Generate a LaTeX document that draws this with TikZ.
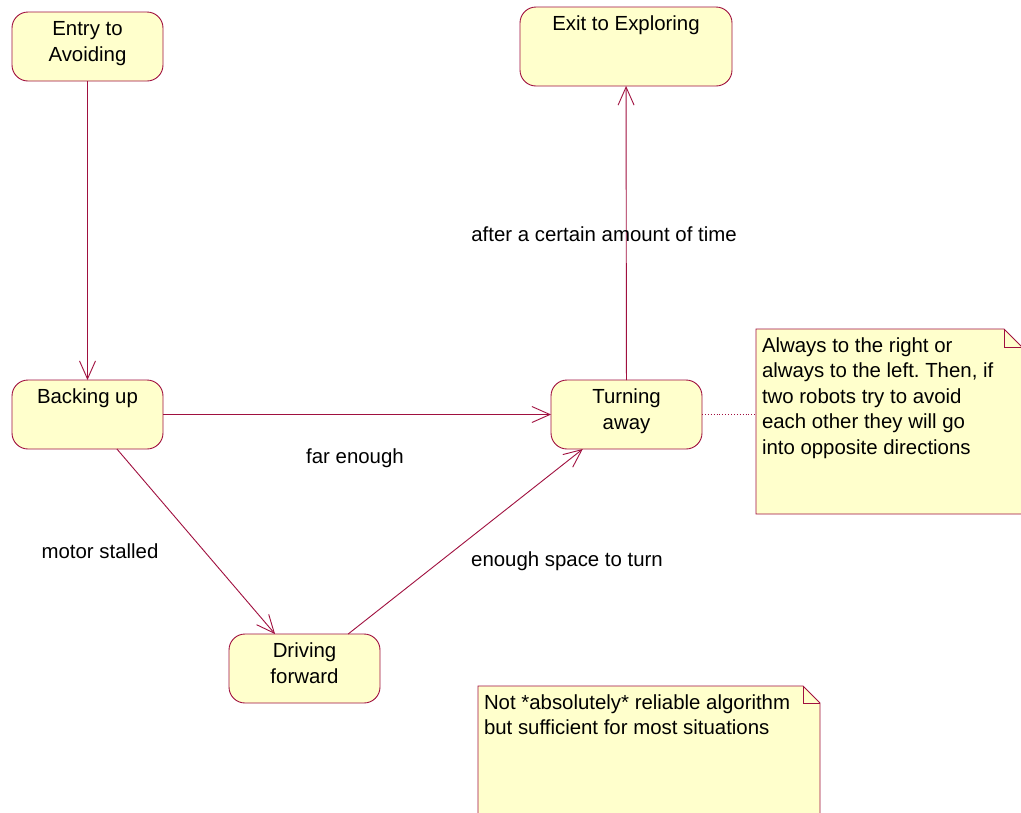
\documentclass[tikz,border=0pt]{standalone}
\usepackage{fontspec}
\setmainfont{Liberation Sans}
\usetikzlibrary{arrows.meta,calc}
\frenchspacing

\definecolor{umlline}{HTML}{A0103F}
\definecolor{umlfill}{HTML}{FFFFCC}

% state box contents: fixed-size box, text starting near the top
\newcommand\statebox[3]{\parbox[t][#2pt][t]{#1pt}{\centering\rule{0pt}{23.5pt}#3}}
% note contents: left-aligned text inset from the left edge
\newcommand\notebox[3]{\parbox[t][#2pt][t]{#1pt}{\raggedright\leftskip=6pt\rule{0pt}{23pt}#3}}

\tikzset{
  state/.style={draw=umlline, fill=umlfill, line width=0.9pt, rounded corners=16pt,
                inner sep=0pt, outer sep=0pt},
  notetext/.style={inner sep=0pt, outer sep=0pt, anchor=north west},
  noteshape/.style={draw=umlline, fill=umlfill, line width=0.9pt, line join=miter},
  trans/.style={draw=umlline, line width=0.9pt,
                -{Straight Barb[length=18pt,width=16pt,line width=0.9pt]}},
  anchorline/.style={draw=umlline, line width=0.9pt, dotted},
  lbl/.style={anchor=base, inner sep=0pt}
}

\begin{document}
\begin{tikzpicture}[x=1pt,y=-1pt,font=\fontsize{20.4}{25.5}\selectfont]
  \fill[white] (0,0) rectangle (1021,812);
  \useasboundingbox (0,0) rectangle (1021,812);

  % states
  \node[state] (entry) at (87.5,46.5) {\statebox{151}{69}{Entry to\\Avoiding}};
  \node[state] (exit) at (626,46.5) {\statebox{212}{79}{Exit to Exploring}};
  \node[state] (back) at (87.5,414.5) {\statebox{151}{69}{Backing up}};
  \node[state] (turn) at (626.5,414.5) {\statebox{151}{69}{Turning\\away}};
  \node[state] (drive) at (304.5,668.5) {\statebox{151}{69}{Driving\\forward}};

  % note beside the turning state
  \coordinate (n1a) at (756,329);
  \coordinate (n1b) at (1022,514);
  \draw[noteshape] (n1a) -- ($(n1a -| n1b)+(-18,0)$) -- ($(n1a -| n1b)+(0,18)$)
        -- (n1b) -- (n1a |- n1b) -- cycle;
  \draw[noteshape, fill=none] ($(n1a -| n1b)+(-18,0)$) |- ($(n1a -| n1b)+(0,18)$);
  \node[notetext] (n1) at (n1a) {\notebox{266}{185}{Always to the right or\\
    always to the left. Then, if\\two robots try to avoid\\each other they will go\\
    into opposite directions}};

  % note at the bottom
  \coordinate (n2a) at (478,686);
  \coordinate (n2b) at (820,830);
  \draw[noteshape] (n2a) -- ($(n2a -| n2b)+(-17,0)$) -- ($(n2a -| n2b)+(0,17)$)
        -- (n2b) -- (n2a |- n2b) -- cycle;
  \draw[noteshape, fill=none] ($(n2a -| n2b)+(-17,0)$) |- ($(n2a -| n2b)+(0,17)$);
  \node[notetext] (n2) at (n2a) {\notebox{342}{126}{Not *absolutely* reliable algorithm\\
    but sufficient for most situations}};

  % transitions
  \draw[trans] (entry) -- (back);
  \draw[trans] (back) -- (turn);
  \draw[trans] (turn) -- (exit);
  \draw[trans] (back) -- (drive);
  \draw[trans] (drive) -- (turn);
  \draw[anchorline] (turn.east) -- (turn.east -| n1.west);

  % transition labels
  \node[lbl] (l1) at (604,241) {after a certain amount of time};
  \node[lbl] (l2) at (355,463) {far enough};
  \node[lbl] (l3) at (100,558) {motor stalled};
  \node[lbl] (l4) at (567,566) {enough space to turn};
\end{tikzpicture}
\end{document}
